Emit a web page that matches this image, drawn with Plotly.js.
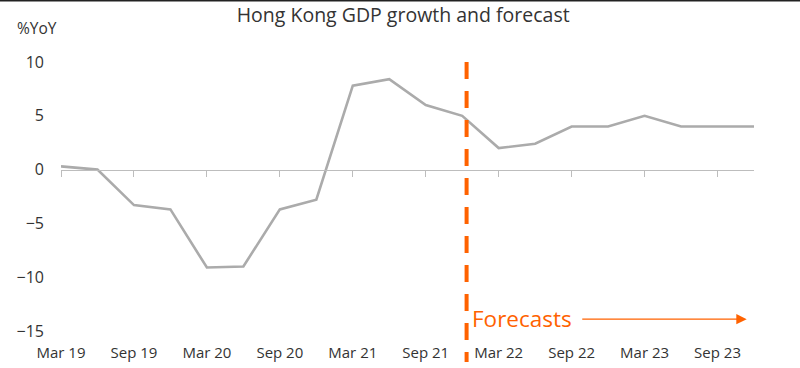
<!DOCTYPE html>
<html>
<head>
<meta charset="utf-8">
<script src="https://cdn.plot.ly/plotly-3.0.1.min.js"></script>
<style>
html,body{margin:0;padding:0;background:#fff;}
#chart{width:800px;height:368px;}
</style>
</head>
<body>
<div id="chart"></div>
<script>
// Data (quarterly, %YoY)
var quarters = ["Mar 19","Jun 19","Sep 19","Dec 19","Mar 20","Jun 20","Sep 20","Dec 20",
                "Mar 21","Jun 21","Sep 21","Dec 21","Mar 22","Jun 22","Sep 22","Dec 22",
                "Mar 23","Jun 23","Sep 23","Dec 23"];
var gdpGrowth = [0.3, 0.0, -3.3, -3.7, -9.1, -9.0, -3.7, -2.8,
                 7.8, 8.4, 6.0, 5.0, 2.0, 2.4, 4.0, 4.0,
                 5.0, 4.0, 4.0, 4.0];
var tickLabels = ["Mar 19","Sep 19","Mar 20","Sep 20","Mar 21","Sep 21","Mar 22","Sep 22","Mar 23","Sep 23"];
var yTicks = [-15, -10, -5, 0, 5, 10];

var ML = 61, MR = 46, MT = 62, MB = 37, H = 368;
var yMin = -15, yMax = 10;
var plotH = H - MT - MB;
var plotW = 800 - ML - MR;
var orange = "#FF6200";
var font = "Open Sans, DejaVu Sans, sans-serif";

var traces = [
  {x: quarters, y: quarters.map(function(){return null;}), type: "scatter", mode: "lines",
   xaxis: "x2", yaxis: "y", hoverinfo: "skip", line: {color: "rgba(0,0,0,0)"}},
  {x: quarters, y: gdpGrowth, type: "scatter", mode: "lines",
   line: {color: "#ababab", width: 2.6}, hoverinfo: "skip", xaxis: "x", yaxis: "y"}
];

var layout = {
  width: 800, height: 368,
  margin: {l: ML, r: MR, t: MT, b: MB},
  paper_bgcolor: "#fff", plot_bgcolor: "#fff",
  showlegend: false,
  title: {text: "Hong Kong GDP growth and forecast", x: 0.504, xanchor: "center", y: 0.958, yanchor: "middle",
          font: {family: font, size: 19.5, color: "#333"}},
  xaxis: {
    type: "category", categoryorder: "array", categoryarray: quarters,
    range: [0, quarters.length - 1],
    tickmode: "array", tickvals: tickLabels, ticktext: tickLabels,
    ticks: "", showline: false, showgrid: false, zeroline: false,
    tickfont: {family: font, size: 15, color: "#333"},
    ticklabelstandoff: 11, fixedrange: true
  },
  xaxis2: {
    type: "category", categoryorder: "array", categoryarray: quarters,
    range: [0, quarters.length - 1], overlaying: "x", anchor: "free", side: "bottom",
    position: (0 - yMin) / (yMax - yMin),
    tickmode: "array", tickvals: tickLabels, showticklabels: false,
    ticks: "outside", ticklen: 6, tickwidth: 1, tickcolor: "#bdbdbd",
    showline: true, linecolor: "#bdbdbd", linewidth: 1.5, showgrid: false, zeroline: false
  },
  yaxis: {
    range: [yMin, yMax], tickmode: "array", tickvals: yTicks,
    ticks: "", showgrid: false, zeroline: false, showline: false,
    tickfont: {family: font, size: 16, color: "#333"},
    ticklabelstandoff: 16, fixedrange: true
  },
  shapes: [
    {type: "line", xref: "x", yref: "paper", x0: 11.12, x1: 11.12, y0: 1, y1: -(362 - (H - MB)) / plotH,
     line: {color: orange, width: 4, dash: "17px,12px"}},
    {type: "line", xref: "paper", yref: "paper", x0: -ML / plotW, x1: 1 + MR / plotW,
     y0: 1 + (MT - 0.8) / plotH, y1: 1 + (MT - 0.8) / plotH, line: {color: "#222", width: 1.6}}
  ],
  annotations: [
    {xref: "paper", yref: "paper", x: (15 - ML) / plotW, y: 1 + (MT - 28) / plotH,
     xanchor: "left", yanchor: "middle", showarrow: false, text: "%YoY",
     font: {family: font, size: 15.5, color: "#333"}},
    {xref: "x", yref: "y", x: 11.2, y: -13.85, xanchor: "left", yanchor: "middle", showarrow: false,
     text: "Forecasts", font: {family: font, size: 22.5, color: orange}},
    {xref: "x", yref: "y", axref: "x", ayref: "y", x: 18.8, y: -13.9, ax: 14.25, ay: -13.9,
     showarrow: true, arrowhead: 2, arrowsize: 1.6, arrowwidth: 1.3, arrowcolor: orange, text: ""}
  ]
};

Plotly.newPlot("chart", traces, layout, {displayModeBar: false, staticPlot: true});
</script>
</body>
</html>
